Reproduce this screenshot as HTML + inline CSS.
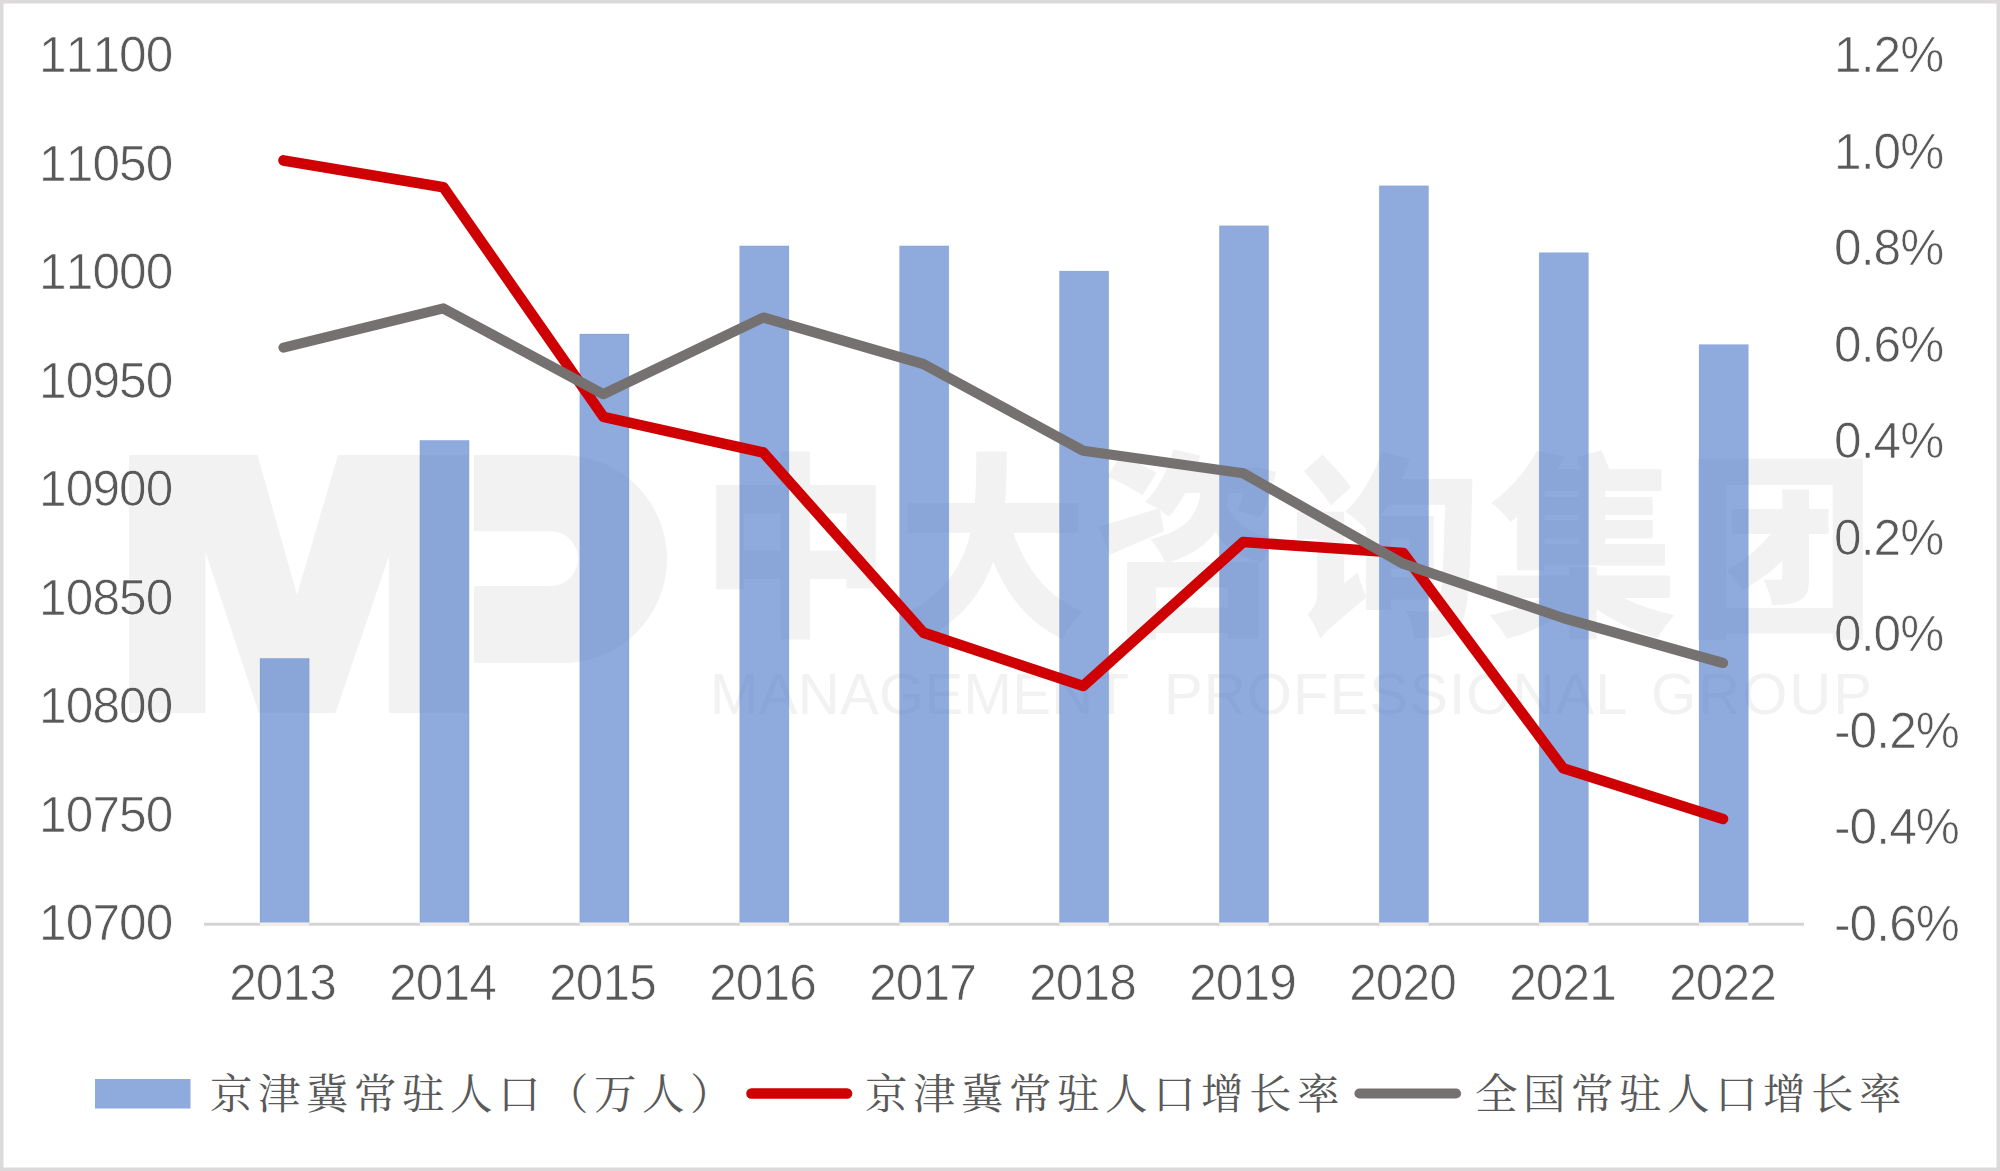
<!DOCTYPE html>
<html lang="zh-CN">
<head>
<meta charset="utf-8">
<title>京津冀常驻人口</title>
<style>
html,body{margin:0;padding:0;background:#fff;}
body{width:2000px;height:1171px;overflow:hidden;}
svg{display:block;}
.ax{font-family:"Liberation Sans","Noto Sans CJK SC",sans-serif;font-size:49.6px;letter-spacing:-0.9px;font-kerning:none;fill:#595959;stroke:#fff;stroke-width:0.7px;}
.lg{font-family:"Liberation Serif","Noto Serif CJK SC",serif;font-size:42.5px;letter-spacing:5.5px;fill:#595959;font-weight:400;}
.wmcn{font-family:"Liberation Sans","Noto Sans CJK SC",sans-serif;font-weight:900;font-size:197px;fill:#f2f2f2;}
.wmen{font-family:"Liberation Sans","Noto Sans CJK SC",sans-serif;font-weight:400;font-size:58px;fill:#f2f2f2;}
</style>
</head>
<body>
<svg width="2000" height="1171" viewBox="0 0 2000 1171">
<rect x="0" y="0" width="2000" height="1171" fill="#ffffff"/>
<rect x="1.75" y="1.75" width="1996.5" height="1167.5" fill="none" stroke="#dbd9d9" stroke-width="3.5"/>

<g class="wm">
<path fill="#f2f2f2" d="M129,455 L257.5,455 L297,595 L338,455 L468,455 L468,713 L389,713 L389,556 L335.5,713 L258.8,713 L205.5,552 L205.5,713 L129,713 Z"/>
<path fill="#f2f2f2" d="M474,455 L563,455 A104,104 0 0 1 563,663 L474,663 L474,586 L550.6,586 A27.4,27.4 0 0 0 550.6,531.2 L474,531.2 Z"/>
<text class="wmcn" transform="translate(700.5,620) scale(0.965,1)" x="0" y="0" letter-spacing="7.1">中大咨询集团</text>
<text class="wmen" x="710" y="713.7" textLength="419" lengthAdjust="spacing">MANAGEMENT</text>
<text class="wmen" x="1164" y="713.7" textLength="463.5" lengthAdjust="spacing">PROFESSIONAL</text>
<text class="wmen" x="1651" y="713.7" textLength="221" lengthAdjust="spacing">GROUP</text>
</g>
<g fill="rgba(68,114,196,0.6)" stroke="rgba(68,114,196,0.22)" stroke-width="0.8">
<rect x="260.0" y="658.4" width="49.2" height="264.1"/>
<rect x="419.9" y="440.4" width="49.2" height="482.1"/>
<rect x="579.8" y="334.0" width="49.2" height="588.5"/>
<rect x="739.7" y="245.9" width="49.2" height="676.6"/>
<rect x="899.6" y="245.9" width="49.2" height="676.6"/>
<rect x="1059.5" y="271.1" width="49.2" height="651.4"/>
<rect x="1219.4" y="225.8" width="49.2" height="696.7"/>
<rect x="1379.3" y="185.8" width="49.2" height="736.7"/>
<rect x="1539.2" y="252.7" width="49.2" height="669.8"/>
<rect x="1699.1" y="344.6" width="49.2" height="577.9"/>
</g>
<line x1="204" y1="924.3" x2="1804" y2="924.3" stroke="#d4d4d4" stroke-width="3"/>
<g fill="#f3eeea">
<rect x="260.0" y="922.8" width="49.2" height="3"/>
<rect x="419.9" y="922.8" width="49.2" height="3"/>
<rect x="579.8" y="922.8" width="49.2" height="3"/>
<rect x="739.7" y="922.8" width="49.2" height="3"/>
<rect x="899.6" y="922.8" width="49.2" height="3"/>
<rect x="1059.5" y="922.8" width="49.2" height="3"/>
<rect x="1219.4" y="922.8" width="49.2" height="3"/>
<rect x="1379.3" y="922.8" width="49.2" height="3"/>
<rect x="1539.2" y="922.8" width="49.2" height="3"/>
<rect x="1699.1" y="922.8" width="49.2" height="3"/>
</g>
<polyline points="283.5,160.4 443.4,187.2 603.4,416.8 763.3,452.5 923.3,632.6 1083.2,686.0 1243.2,542.0 1403.1,553.0 1563.1,768.2 1723.0,819.0" fill="none" stroke="#cf0003" stroke-width="10.6" stroke-linecap="round" stroke-linejoin="round"/>
<polyline points="283.5,347.6 443.4,308.4 603.4,394.2 763.3,317.5 923.3,364.0 1083.2,450.7 1243.2,473.3 1403.1,563.7 1563.1,618.0 1723.0,663.0" fill="none" stroke="#767171" stroke-width="10.2" stroke-linecap="round" stroke-linejoin="round"/>
<g class="ax" text-anchor="end">
<text x="172.5" y="72.0">11100</text>
<text x="172.5" y="180.6">11050</text>
<text x="172.5" y="289.1">11000</text>
<text x="172.5" y="397.6">10950</text>
<text x="172.5" y="506.2">10900</text>
<text x="172.5" y="614.8">10850</text>
<text x="172.5" y="723.3">10800</text>
<text x="172.5" y="831.9">10750</text>
<text x="172.5" y="940.4">10700</text>
</g>
<g class="ax" text-anchor="start">
<text x="1834" y="72.0">1.2%</text>
<text x="1834" y="168.5">1.0%</text>
<text x="1834" y="265.0">0.8%</text>
<text x="1834" y="361.5">0.6%</text>
<text x="1834" y="458.0">0.4%</text>
<text x="1834" y="554.5">0.2%</text>
<text x="1834" y="651.0">0.0%</text>
<text x="1834" y="747.5">-0.2%</text>
<text x="1834" y="844.0">-0.4%</text>
<text x="1834" y="940.5">-0.6%</text>
</g>
<g class="ax" text-anchor="middle">
<text x="282.5" y="999.5">2013</text>
<text x="442.5" y="999.5">2014</text>
<text x="602.5" y="999.5">2015</text>
<text x="762.5" y="999.5">2016</text>
<text x="922.5" y="999.5">2017</text>
<text x="1082.5" y="999.5">2018</text>
<text x="1242.5" y="999.5">2019</text>
<text x="1402.5" y="999.5">2020</text>
<text x="1562.5" y="999.5">2021</text>
<text x="1722.5" y="999.5">2022</text>
</g>
<rect x="95" y="1079" width="95.5" height="29.5" fill="#8faadc"/>
<text class="lg" x="210" y="1109">京津冀常驻人口（万人）</text>
<line x1="751.5" y1="1093.5" x2="847" y2="1093.5" stroke="#cf0003" stroke-width="10.6" stroke-linecap="round"/>
<text class="lg" x="865" y="1109">京津冀常驻人口增长率</text>
<line x1="1359.5" y1="1093.5" x2="1456" y2="1093.5" stroke="#767171" stroke-width="10.2" stroke-linecap="round"/>
<text class="lg" x="1475" y="1109">全国常驻人口增长率</text>
</svg>
</body>
</html>
